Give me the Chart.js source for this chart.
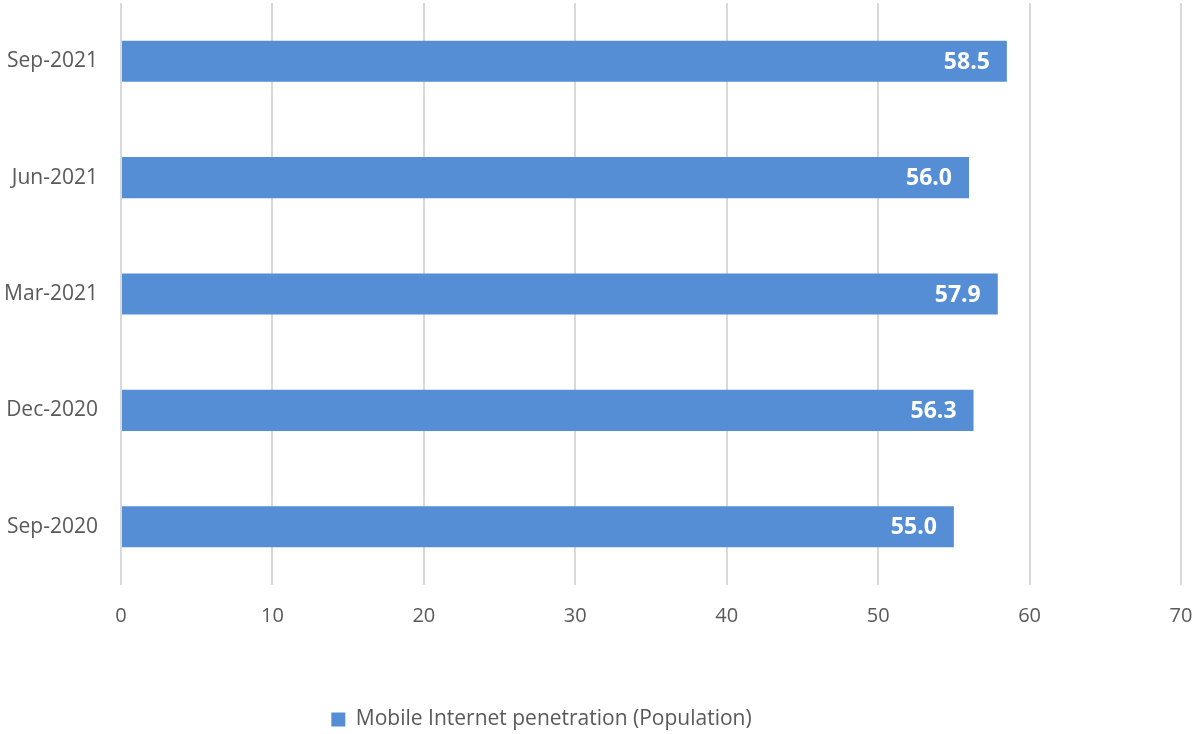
<!DOCTYPE html>
<html>
<head>
<meta charset="utf-8">
<script src="https://cdn.jsdelivr.net/npm/chart.js@4"></script>
<style>
  html, body { margin: 0; padding: 0; background: #ffffff; }
  #wrap { width: 1194px; height: 734px; position: relative; }
</style>
</head>
<body>
<div id="wrap"><canvas id="penChart"></canvas></div>
<script>
const periods = ['Sep-2021', 'Jun-2021', 'Mar-2021', 'Dec-2020', 'Sep-2020'];
const penetration = [58.5, 56.0, 57.9, 56.3, 55.0];
const seriesName = 'Mobile Internet penetration (Population)';

const barColor = 'rgb(85, 142, 213)';
const textColor = '#595959';
const gridColor = '#d9d9d9';
const fontFamily = '"Open Sans", Lato, sans-serif';

// white bold value written inside the end of every bar
const valueLabels = {
    id: 'valueLabels',
    afterDatasetsDraw(chart) {
        const ctx = chart.ctx;
        const meta = chart.getDatasetMeta(0);
        ctx.save();
        ctx.fillStyle = '#ffffff';
        ctx.font = 'bold 23px ' + fontFamily;
        ctx.textAlign = 'right';
        ctx.textBaseline = 'middle';
        meta.data.forEach((bar, i) => {
            ctx.fillText(penetration[i].toFixed(1), bar.x - 17, bar.y + 1);
        });
        ctx.restore();
    }
};

// legend sits a bit left of the page centre
const legendShift = {
    id: 'legendShift',
    afterLayout(chart) {
        if (chart.legend) {
            chart.legend.right -= 98;
        }
    }
};

new Chart(document.getElementById('penChart'), {
    type: 'bar',
    data: {
        labels: periods,
        datasets: [{
            label: seriesName,
            data: penetration,
            backgroundColor: barColor,
            borderWidth: 0,
            categoryPercentage: 1,
            barPercentage: 0.353
        }]
    },
    options: {
        indexAxis: 'y',
        responsive: true,
        maintainAspectRatio: false,
        animation: false,
        layout: { padding: { top: 3, right: 13, left: 0, bottom: -6 } },
        plugins: {
            legend: {
                position: 'bottom',
                labels: {
                    color: textColor,
                    font: { family: fontFamily, size: 21 },
                    boxWidth: 14,
                    boxHeight: 14,
                    padding: 3
                }
            },
            tooltip: { enabled: false }
        },
        scales: {
            x: {
                min: 0,
                max: 70,
                ticks: {
                    stepSize: 10,
                    color: textColor,
                    font: { family: fontFamily, size: 20 },
                    padding: 19
                },
                grid: { color: gridColor, lineWidth: 2, drawTicks: false },
                border: { display: false },
                afterFit(scale) {
                    scale.height = 121;
                    scale.paddingLeft = 0;
                    scale.paddingRight = 0;
                }
            },
            y: {
                ticks: {
                    color: textColor,
                    font: { family: fontFamily, size: 21 },
                    padding: 23
                },
                grid: { display: false, drawTicks: false },
                border: { display: false },
                afterFit(scale) {
                    scale.width = 121;
                    scale.paddingTop = 0;
                    scale.paddingBottom = 0;
                }
            }
        }
    },
    plugins: [valueLabels, legendShift]
});
</script>
</body>
</html>
